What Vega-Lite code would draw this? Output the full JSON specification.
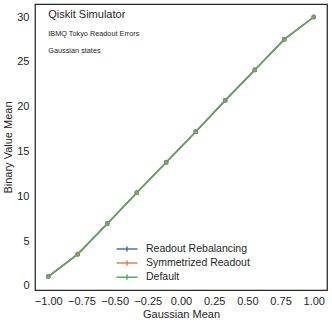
{
  "$schema": "https://vega.github.io/schema/vega-lite/v6.json",
  "width": 292,
  "height": 286,
  "autosize": {"type": "none"},
  "padding": {"left": 35, "top": 4, "right": 5, "bottom": 33},
  "background": "white",
  "config": {
    "font": "Liberation Sans",
    "view": {"stroke": "#262626", "strokeWidth": 1.25},
    "axis": {"grid": false, "ticks": false, "domain": false, "labelFont": "Liberation Sans", "titleFont": "Liberation Sans", "labelFontSize": 11, "titleFontSize": 11, "labelColor": "#262626", "titleColor": "#262626", "titleFontWeight": "normal"}
  },
  "datasets": {
    "main": [
      {"mean": -1.0, "value": 1.05, "err": 0.25, "series": "Readout Rebalancing"},
      {"mean": -0.7778, "value": 3.55, "err": 0.25, "series": "Readout Rebalancing"},
      {"mean": -0.5556, "value": 6.95, "err": 0.25, "series": "Readout Rebalancing"},
      {"mean": -0.3333, "value": 10.4, "err": 0.25, "series": "Readout Rebalancing"},
      {"mean": -0.1111, "value": 13.8, "err": 0.25, "series": "Readout Rebalancing"},
      {"mean": 0.1111, "value": 17.2, "err": 0.25, "series": "Readout Rebalancing"},
      {"mean": 0.3333, "value": 20.7, "err": 0.25, "series": "Readout Rebalancing"},
      {"mean": 0.5556, "value": 24.1, "err": 0.25, "series": "Readout Rebalancing"},
      {"mean": 0.7778, "value": 27.5, "err": 0.25, "series": "Readout Rebalancing"},
      {"mean": 1.0, "value": 30.0, "err": 0.25, "series": "Readout Rebalancing"},
      {"mean": -1.0, "value": 1.05, "err": 0.25, "series": "Symmetrized Readout"},
      {"mean": -0.7778, "value": 3.55, "err": 0.25, "series": "Symmetrized Readout"},
      {"mean": -0.5556, "value": 6.95, "err": 0.25, "series": "Symmetrized Readout"},
      {"mean": -0.3333, "value": 10.4, "err": 0.25, "series": "Symmetrized Readout"},
      {"mean": -0.1111, "value": 13.8, "err": 0.25, "series": "Symmetrized Readout"},
      {"mean": 0.1111, "value": 17.2, "err": 0.25, "series": "Symmetrized Readout"},
      {"mean": 0.3333, "value": 20.7, "err": 0.25, "series": "Symmetrized Readout"},
      {"mean": 0.5556, "value": 24.1, "err": 0.25, "series": "Symmetrized Readout"},
      {"mean": 0.7778, "value": 27.5, "err": 0.25, "series": "Symmetrized Readout"},
      {"mean": 1.0, "value": 30.0, "err": 0.25, "series": "Symmetrized Readout"},
      {"mean": -1.0, "value": 1.05, "err": 0.25, "series": "Default"},
      {"mean": -0.7778, "value": 3.55, "err": 0.25, "series": "Default"},
      {"mean": -0.5556, "value": 6.95, "err": 0.25, "series": "Default"},
      {"mean": -0.3333, "value": 10.4, "err": 0.25, "series": "Default"},
      {"mean": -0.1111, "value": 13.8, "err": 0.25, "series": "Default"},
      {"mean": 0.1111, "value": 17.2, "err": 0.25, "series": "Default"},
      {"mean": 0.3333, "value": 20.7, "err": 0.25, "series": "Default"},
      {"mean": 0.5556, "value": 24.1, "err": 0.25, "series": "Default"},
      {"mean": 0.7778, "value": 27.5, "err": 0.25, "series": "Default"},
      {"mean": 1.0, "value": 30.0, "err": 0.25, "series": "Default"}
    ],
    "notes": [
      {"mean": -1.0, "value": 29.9, "label": "Qiskit Simulator", "kind": "title"},
      {"mean": -1.0, "value": 27.92, "label": "IBMQ Tokyo Readout Errors", "kind": "sub"},
      {"mean": -1.0, "value": 25.95, "label": "Gaussian states", "kind": "sub"}
    ]
  },
  "encoding": {
    "x": {"field": "mean", "type": "quantitative", "title": "Gaussian Mean",
      "scale": {"domain": [-1.1, 1.1], "nice": false, "zero": false},
      "axis": {"values": [-1, -0.75, -0.5, -0.25, 0, 0.25, 0.5, 0.75, 1], "format": ".2f", "labelPadding": 5, "titlePadding": 2}},
    "y": {"field": "value", "type": "quantitative", "title": "Binary Value Mean",
      "scale": {"domain": [-0.45, 31.45], "nice": false, "zero": false},
      "axis": {"values": [0, 5, 10, 15, 20, 25, 30], "labelPadding": 6, "titlePadding": 3}}
  },
  "layer": [
    {
      "data": {"name": "main"},
      "transform": [
        {"calculate": "datum.value - datum.err", "as": "lo"},
        {"calculate": "datum.value + datum.err", "as": "hi"}
      ],
      "mark": {"type": "rule", "strokeWidth": 1},
      "encoding": {
        "y": {"field": "lo", "type": "quantitative"},
        "y2": {"field": "hi"},
        "color": {"field": "series", "type": "nominal"}
      }
    },
    {
      "data": {"name": "main"},
      "mark": {"type": "line", "strokeWidth": 1.5},
      "encoding": {
        "color": {"field": "series", "type": "nominal",
          "scale": {"domain": ["Readout Rebalancing", "Symmetrized Readout", "Default"], "range": ["#4C72B0", "#DD8452", "#55A868"]},
          "legend": {"title": null, "orient": "none", "legendX": 86, "legendY": 239, "symbolType": "M-2,0H2M0,-0.5V0.5", "symbolSize": 110, "symbolStrokeWidth": 1.5, "labelFontSize": 10.5, "labelFont": "Liberation Sans", "labelColor": "#262626", "rowPadding": 2.1, "labelOffset": 13}}
      }
    },
    {
      "data": {"name": "main"},
      "transform": [{"calculate": "indexof(['Readout Rebalancing', 'Symmetrized Readout', 'Default'], datum.series)", "as": "idx"}],
      "mark": {"type": "point", "size": 12, "strokeWidth": 1, "opacity": 1},
      "encoding": {
        "stroke": {"field": "idx", "type": "nominal",
          "scale": {"domain": [0, 1, 2], "range": ["#4C72B0", "#DD8452", "#55A868"]},
          "legend": null},
        "shape": {"field": "idx", "type": "nominal",
          "scale": {"domain": [0, 1, 2], "range": ["circle", "triangle-up", "square"]},
          "legend": null},
        "fill": {"field": "idx", "type": "nominal",
          "scale": {"domain": [0, 1, 2], "range": ["#4C72B0", "#DD8452", "transparent"]},
          "legend": null}
      }
    },
    {
      "data": {"name": "notes"},
      "mark": {"type": "text", "align": "left", "baseline": "alphabetic", "font": "Liberation Sans", "color": "#262626"},
      "encoding": {
        "text": {"field": "label"},
        "size": {"field": "kind", "type": "nominal", "scale": {"domain": ["title", "sub"], "range": [11, 7.3]}, "legend": null}
      }
    }
  ]
}
